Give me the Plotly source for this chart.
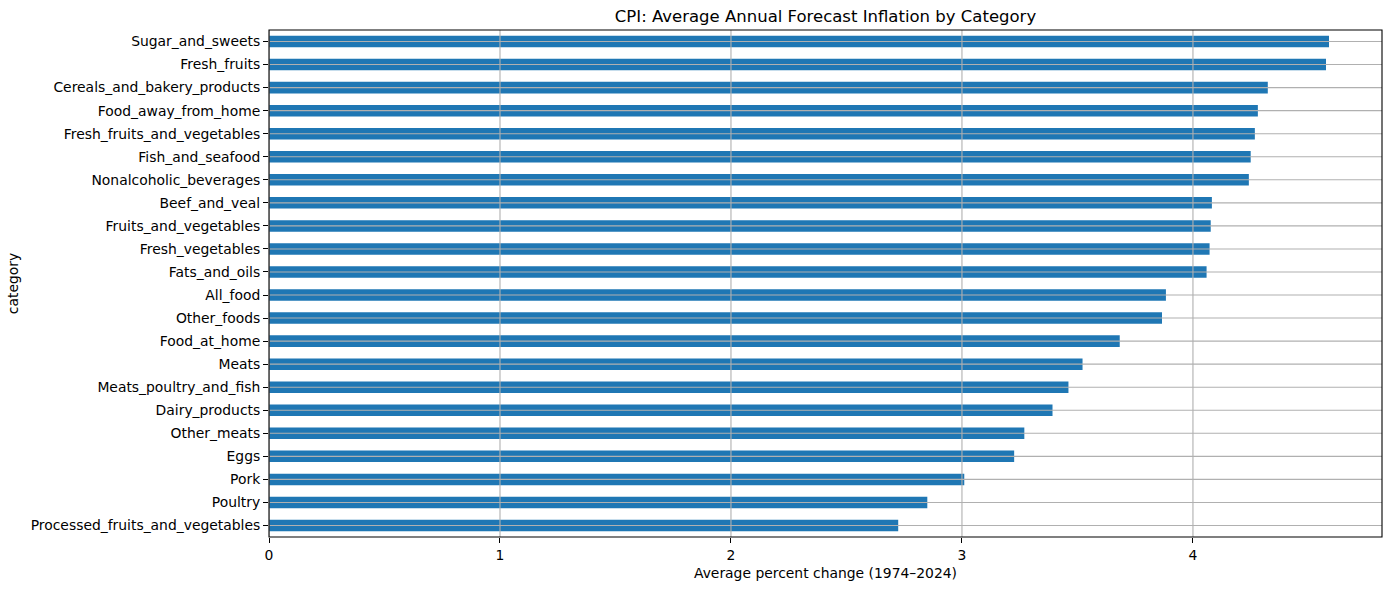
import plotly.graph_objects as go

categories = [
    "Sugar_and_sweets", "Fresh_fruits", "Cereals_and_bakery_products",
    "Food_away_from_home", "Fresh_fruits_and_vegetables", "Fish_and_seafood",
    "Nonalcoholic_beverages", "Beef_and_veal", "Fruits_and_vegetables",
    "Fresh_vegetables", "Fats_and_oils", "All_food", "Other_foods",
    "Food_at_home", "Meats", "Meats_poultry_and_fish", "Dairy_products",
    "Other_meats", "Eggs", "Pork", "Poultry", "Processed_fruits_and_vegetables",
]
values = [
    4.589, 4.576, 4.324, 4.281, 4.268, 4.250, 4.242, 4.082, 4.077, 4.072,
    4.059, 3.883, 3.866, 3.683, 3.522, 3.461, 3.392, 3.270, 3.226, 3.010,
    2.850, 2.724,
]
x_ticks = [0, 1, 2, 3, 4]

FONT = "DejaVu Sans"
GRID = "#b0b0b0"

fig = go.Figure(go.Bar(
    x=values, y=categories, orientation="h", width=0.5,
    marker=dict(color="#1f77b4", line=dict(width=0)),
))

shapes = []
for t in x_ticks:
    shapes.append(dict(type="line", xref="x", yref="paper", x0=t, x1=t, y0=0, y1=1,
                       line=dict(color=GRID, width=1.1), layer="above"))
for c in categories:
    shapes.append(dict(type="line", xref="paper", yref="y", x0=0, x1=1, y0=c, y1=c,
                       line=dict(color=GRID, width=1.1), layer="above"))
shapes.append(dict(type="rect", xref="paper", yref="paper", x0=0, x1=1, y0=0, y1=1,
                   line=dict(color="black", width=1.1), layer="above"))

n = len(categories)
fig.update_layout(
    width=1389, height=590,
    margin=dict(l=269, r=7, t=30, b=53, autoexpand=False),
    paper_bgcolor="white", plot_bgcolor="white",
    font=dict(family=FONT, size=13.9, color="black"),
    showlegend=False,
    bargap=0.5,
    title=dict(text="CPI: Average Annual Forecast Inflation by Category",
               font=dict(family=FONT, size=16.5, color="black"),
               x=0.5, xref="paper", xanchor="center",
               y=1, yref="paper", yanchor="bottom", pad=dict(b=8),
               automargin=False),
    xaxis=dict(range=[0, max(values) * 1.05], tickmode="array", tickvals=x_ticks,
               showgrid=False, zeroline=False, showline=False, automargin=False,
               ticks="outside", ticklen=5, tickwidth=1.1, tickcolor="black",
               title=dict(text="Average percent change (1974–2024)", standoff=6,
                          font=dict(size=13.9))),
    yaxis=dict(categoryorder="array", categoryarray=categories, automargin=False,
               range=[n - 0.5, -0.5], showgrid=False, zeroline=False, showline=False,
               ticks="outside", ticklen=5, tickwidth=1.1, tickcolor="black",
               title=dict(text="category", standoff=8, font=dict(size=13.9))),
    shapes=shapes,
)

fig.write_html("out.html", config={"displayModeBar": False},
               post_script="document.body.style.margin='0';")
